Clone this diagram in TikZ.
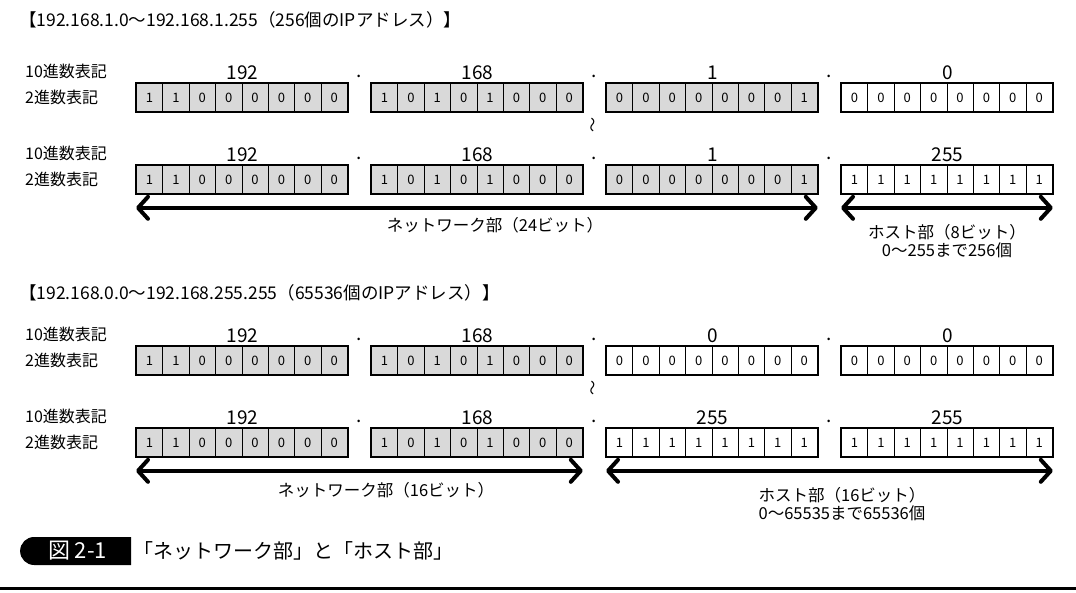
\documentclass[tikz,border=0pt]{standalone}
\usepackage{fontspec}
\setmainfont{Noto Sans CJK JP}
\usetikzlibrary{positioning, arrows.meta, calc, shapes.misc}
\tikzset{
  bitcell/.style={draw, line width=0.8pt, minimum width=26.375pt, minimum height=28pt, inner sep=0pt, font=\fontsize{13}{13}\selectfont},
  netfill/.style={fill=black!15},
  hostfill/.style={fill=white},
  octframe/.style={draw, line width=2.4pt},
  declabel/.style={font=\fontsize{19}{19}\selectfont, anchor=base, inner sep=0pt},
  rowlabel/.style={font=\fontsize{16}{16}\selectfont, anchor=west, inner sep=0pt},
  partlabel/.style={font=\fontsize{16.5}{18}\selectfont, align=center, inner sep=0pt},
  headline/.style={font=\fontsize{17.5}{17.5}\selectfont, anchor=west, inner sep=0pt},
  wave/.style={font=\fontsize{15}{15}\selectfont, inner sep=0pt, rotate=90},
  span/.style={line width=4pt, {Straight Barb[length=10pt,width=22pt,round]}-{Straight Barb[length=10pt,width=22pt,round]}},
}
% one octet: name, left x, top y, decimal, bits, fill style
\newcommand{\octet}[6]{%
  \foreach \b [count=\i] in {#5}
    \node[bitcell, #6, anchor=north west] (#1-\i) at (#2+\i*26.375-26.375, #3) {\b};
  \draw[octframe] (#1-1.north west) rectangle (#1-8.south east);
  \node[declabel] at ([yshift=4pt]#1-4.north east) {#4};
}
% the two row labels in front of a row of octets
\newcommand{\iprow}[2]{% name, top y
  \node[rowlabel] (#1dec) at (25,#2-12) {10進数表記};
  \node[rowlabel] (#1bin) at (25,#2+14) {2進数表記};
}

\begin{document}
\begin{tikzpicture}[x=1pt, y=-1pt]
\useasboundingbox (0,0) rectangle (1076,592);

% --- 192.168.1.0/24 ---
\node[headline] (head1) at (19,20) {【192.168.1.0〜192.168.1.255（256個のIPアドレス）】};

\iprow{r1}{83}
\octet{r1o1}{136}{83}{192}{1,1,0,0,0,0,0,0}{netfill}
\octet{r1o2}{371}{83}{168}{1,0,1,0,1,0,0,0}{netfill}
\octet{r1o3}{606}{83}{1}{0,0,0,0,0,0,0,1}{netfill}
\octet{r1o4}{841}{83}{0}{0,0,0,0,0,0,0,0}{hostfill}
\node[wave] (tilde1) at (595,125) {〜};

\iprow{r2}{165}
\octet{r2o1}{136}{165}{192}{1,1,0,0,0,0,0,0}{netfill}
\octet{r2o2}{371}{165}{168}{1,0,1,0,1,0,0,0}{netfill}
\octet{r2o3}{606}{165}{1}{0,0,0,0,0,0,0,1}{netfill}
\octet{r2o4}{841}{165}{255}{1,1,1,1,1,1,1,1}{hostfill}

\draw[span] ([yshift=-14pt]r2o1-1.south west) -- ([yshift=-14pt]r2o3-8.south east);
\draw[span] ([yshift=-14pt]r2o4-1.south west) -- ([yshift=-14pt]r2o4-8.south east);
\node[partlabel] (net1) at (495,225) {ネットワーク部（24ビット）};
\node[partlabel] (host1) at (947,241) {ホスト部（8ビット）\\0〜255まで256個};

% --- 192.168.0.0/16 ---
\node[headline] (head2) at (19,293) {【192.168.0.0〜192.168.255.255（65536個のIPアドレス）】};

\iprow{r3}{346}
\octet{r3o1}{136}{346}{192}{1,1,0,0,0,0,0,0}{netfill}
\octet{r3o2}{371}{346}{168}{1,0,1,0,1,0,0,0}{netfill}
\octet{r3o3}{606}{346}{0}{0,0,0,0,0,0,0,0}{hostfill}
\octet{r3o4}{841}{346}{0}{0,0,0,0,0,0,0,0}{hostfill}
\node[wave] (tilde2) at (595,388) {〜};

\iprow{r4}{428}
\octet{r4o1}{136}{428}{192}{1,1,0,0,0,0,0,0}{netfill}
\octet{r4o2}{371}{428}{168}{1,0,1,0,1,0,0,0}{netfill}
\octet{r4o3}{606}{428}{255}{1,1,1,1,1,1,1,1}{hostfill}
\octet{r4o4}{841}{428}{255}{1,1,1,1,1,1,1,1}{hostfill}

\draw[span] ([yshift=-14pt]r4o1-1.south west) -- ([yshift=-14pt]r4o2-8.south east);
\draw[span] ([yshift=-14pt]r4o3-1.south west) -- ([yshift=-14pt]r4o4-8.south east);
\node[partlabel] (net2) at (386,490) {ネットワーク部（16ビット）};
\node[partlabel] (host2) at (842,504) {ホスト部（16ビット）\\0〜65535まで65536個};

% dots between the octets
\foreach \r in {r1,r2,r3,r4}
  \foreach \a/\b in {o1/o2,o2/o3,o3/o4}
    \node[declabel] at ([yshift=6pt]$(\r\a-8.north east)!0.5!(\r\b-1.north west)$) {.};

% caption
\node[rounded rectangle, rounded rectangle right arc=none, fill=black, text=white,
  minimum width=111pt, minimum height=28pt, inner sep=0pt, font=\fontsize{22}{22}\selectfont] (figtag) at (77.5,551) {図 2-1};
\node[font=\fontsize{20}{20}\selectfont, anchor=west, inner sep=0pt, right=2pt of figtag] (figtitle) {「ネットワーク部」と「ホスト部」};
\draw[line width=3pt] (0,588) -- (1076,588);
\end{tikzpicture}
\end{document}
